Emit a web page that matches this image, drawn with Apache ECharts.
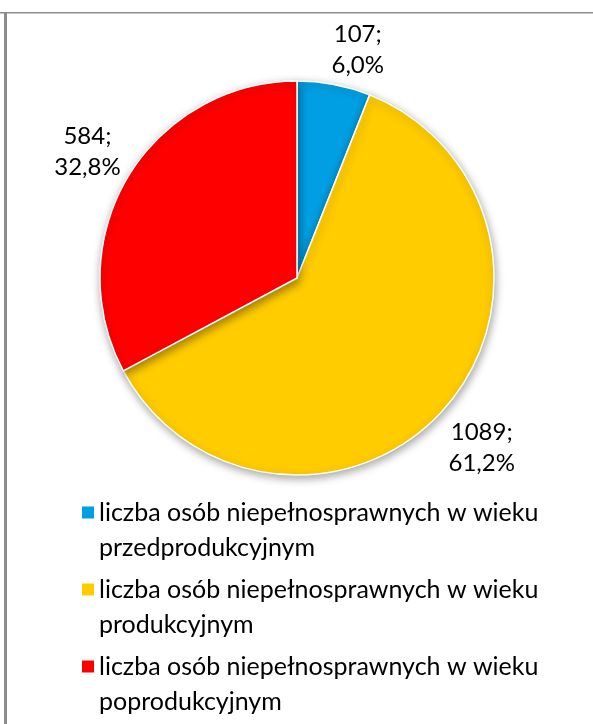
<!DOCTYPE html>
<html>
<head>
<meta charset="utf-8">
<script src="https://cdn.jsdelivr.net/npm/echarts@6/dist/echarts.min.js"></script>
<style>
html,body{margin:0;padding:0;background:#fff;}
#chart{width:593px;height:724px;}
</style>
</head>
<body>
<div id="chart"></div>
<script>
var categories = [
  'liczba osób niepełnosprawnych w wieku przedprodukcyjnym',
  'liczba osób niepełnosprawnych w wieku produkcyjnym',
  'liczba osób niepełnosprawnych w wieku poprodukcyjnym'
];
var legendLabels = [
  'liczba osób niepełnosprawnych w wieku\nprzedprodukcyjnym',
  'liczba osób niepełnosprawnych w wieku\nprodukcyjnym',
  'liczba osób niepełnosprawnych w wieku\npoprodukcyjnym'
];
var values = [107, 1089, 584];
var colors = ['#009FE3', '#FFCC00', '#FF0000'];

var FONT = 'Lato';
var data = categories.map(function (c, i) {
  return { name: c, value: values[i], itemStyle: { color: colors[i] } };
});
var ghostData = categories.map(function (c, i) {
  return { name: c, value: values[i] };
});
var nudge = [[14, 16], [-1, 4], [4, 2]];

var chart = echarts.init(document.getElementById('chart'), null, { renderer: 'canvas' });
chart.setOption({
  animation: false,
  backgroundColor: '#fff',
  graphic: [
    { type: 'rect', shape: { x: 0, y: 12, width: 593, height: 1.5 }, style: { fill: '#8c8c8c' }, silent: true },
    { type: 'rect', shape: { x: 4, y: 12, width: 3, height: 712 }, style: { fill: '#8c8c8c' }, silent: true }
  ],
  legend: {
    orient: 'vertical',
    left: 82,
    top: 460,
    padding: 0,
    itemWidth: 12,
    itemHeight: 12,
    itemGap: -28,
    icon: 'rect',
    itemStyle: { borderWidth: 0 },
    data: categories,
    formatter: function (name) { return '\n' + legendLabels[categories.indexOf(name)]; },
    textStyle: {
      fontFamily: FONT,
      fontSize: 25,
      color: '#000',
      lineHeight: 35
    }
  },
  series: [
    {
      type: 'pie',
      center: [297, 278],
      radius: 197,
      startAngle: 90,
      clockwise: true,
      silent: true,
      data: data,
      label: { show: false },
      labelLine: { show: false },
      itemStyle: {
        borderColor: '#fff',
        borderWidth: 1.5,
        shadowBlur: 8,
        shadowColor: 'rgba(0,0,0,0.35)',
        shadowOffsetX: 1,
        shadowOffsetY: 3
      }
    },
    {
      type: 'pie',
      center: [297, 278],
      radius: [197, 295],
      startAngle: 90,
      clockwise: true,
      silent: true,
      legendHoverLink: false,
      data: ghostData,
      itemStyle: { color: 'rgba(0,0,0,0)', borderWidth: 0 },
      labelLine: { show: false },
      label: {
        show: true,
        position: 'inside',
        fontFamily: FONT,
        fontSize: 24,
        lineHeight: 31,
        color: '#000',
        formatter: function (p) {
          var total = values.reduce(function (a, b) { return a + b; }, 0);
          var pct = (p.value / total * 100).toFixed(1).replace('.', ',');
          return p.value + ';\n' + pct + '%';
        }
      },
      labelLayout: function (p) {
        var n = nudge[p.dataIndex];
        return { dx: n[0], dy: n[1] };
      }
    }
  ]
});
</script>
</body>
</html>
